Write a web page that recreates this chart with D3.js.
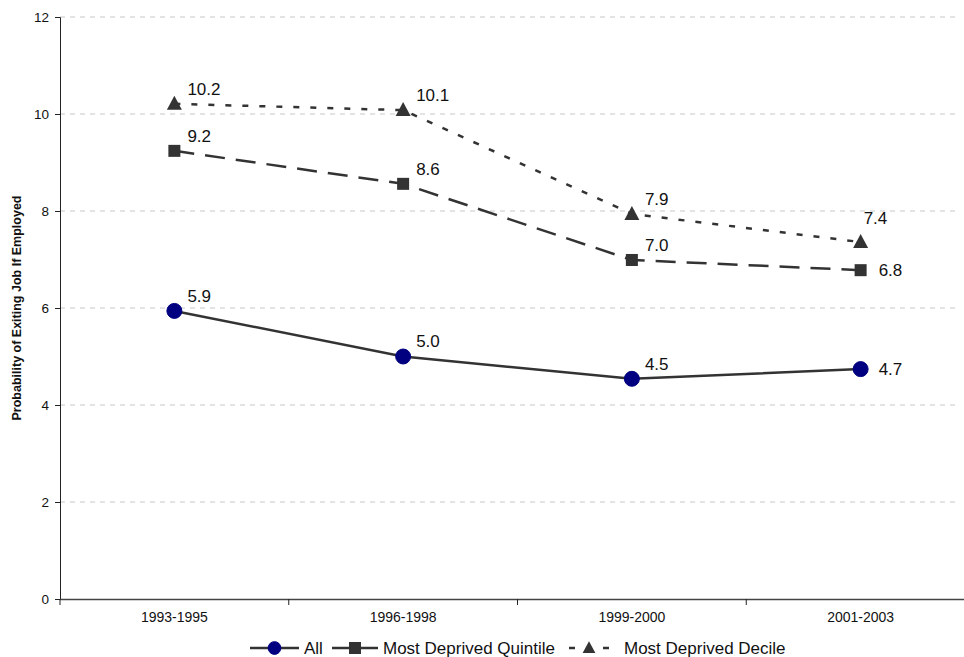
<!DOCTYPE html>
<html>
<head>
<meta charset="utf-8">
<script src="https://cdn.jsdelivr.net/npm/d3@7"></script>
<style>
  html, body { margin: 0; padding: 0; background: #fff; }
  svg { display: block; font-family: "Liberation Sans", Arial, sans-serif; }
</style>
</head>
<body>
<svg id="chart" width="964" height="657"></svg>
<script>
// Job-exit probability by period and area deprivation
const periods = ["1993-1995", "1996-1998", "1999-2000", "2001-2003"];
const allValues = [5.94, 5.0, 4.54, 4.74];
const quintileValues = [9.24, 8.56, 6.99, 6.78];
const decileValues = [10.21, 10.08, 7.94, 7.36];
const yTicks = [0, 2, 4, 6, 8, 10, 12];
const seriesNames = ["All", "Most Deprived Quintile", "Most Deprived Decile"];

const svg = d3.select("#chart");
const plotLeft = 60, plotRight = 975, plotTop = 17, plotBottom = 599, gridEnd = 959;

const x = d3.scaleBand().domain(periods).range([plotLeft, plotRight]).padding(0);
const y = d3.scaleLinear().domain([0, 12]).range([plotBottom, plotTop]);
const cx = d => x(d) + x.bandwidth() / 2;

// horizontal gridlines
svg.append("g").selectAll("line")
  .data(yTicks.filter(t => t > 0))
  .join("line")
  .attr("x1", plotLeft).attr("x2", gridEnd)
  .attr("y1", d => y(d)).attr("y2", d => y(d))
  .attr("stroke", "#c8c8c8").attr("stroke-width", 1)
  .attr("stroke-dasharray", "5,5");

// y axis
const yAxis = svg.append("g")
  .attr("transform", `translate(${plotLeft},0)`)
  .call(d3.axisLeft(y).tickValues(yTicks).tickSize(5).tickPadding(6).tickFormat(d3.format("d")));
yAxis.select(".domain").attr("stroke", "#222");
yAxis.selectAll(".tick line").attr("stroke", "#222");
yAxis.selectAll("text").attr("font-size", 13.5).attr("fill", "#111")
  .attr("font-family", "Liberation Sans, Arial, sans-serif");

// x axis
const xAxis = svg.append("g")
  .attr("transform", `translate(0,${plotBottom})`)
  .call(d3.axisBottom(x).tickSize(0).tickPadding(13));
xAxis.select(".domain").attr("stroke", "#444").attr("stroke-width", 1.5)
  .attr("d", `M${plotLeft},0.5H964`);
xAxis.selectAll("text").attr("font-size", 14).attr("fill", "#111")
  .attr("font-family", "Liberation Sans, Arial, sans-serif");
// category boundary ticks
svg.append("g").selectAll("line")
  .data(periods)
  .join("line")
  .attr("x1", d => x(d)).attr("x2", d => x(d))
  .attr("y1", plotBottom).attr("y2", plotBottom + 6)
  .attr("stroke", "#222");

// y axis title
svg.append("text")
  .attr("transform", `translate(21,${(plotTop + plotBottom) / 2}) rotate(-90)`)
  .attr("text-anchor", "middle")
  .attr("font-size", 12.5).attr("font-weight", "bold").attr("fill", "#111")
  .text("Probability of Exiting Job If Employed");

const lineGen = d3.line().x((d, i) => cx(periods[i])).y(d => y(d));
const lineColor = "#333";

const series = [
  { name: seriesNames[0], values: allValues, dash: null, marker: "circle", legendScale: 0.85, legendOffset: 0 },
  { name: seriesNames[1], values: quintileValues, dash: "20,11", marker: "square", legendScale: 1, legendOffset: 3 },
  { name: seriesNames[2], values: decileValues, dash: "6,11", marker: "triangle", legendScale: 0.85, legendOffset: -3 }
];

function drawMarker(g, type, px, py, scale = 1) {
  if (type === "circle") {
    g.append("circle").attr("cx", px).attr("cy", py).attr("r", 7.5 * scale)
      .attr("fill", "#000080").attr("stroke", "#000080");
  } else if (type === "square") {
    const h = 6 * scale;
    g.append("rect").attr("x", px - h).attr("y", py - h).attr("width", 2 * h).attr("height", 2 * h)
      .attr("fill", "#333");
  } else {
    g.append("path")
      .attr("d", `M${px},${py - 8 * scale}L${px + 7.5 * scale},${py + 6 * scale}L${px - 7.5 * scale},${py + 6 * scale}Z`)
      .attr("fill", "#333");
  }
}

// label offsets: above-right by default, beside the final points for the two lower series
function labelOffset(si, i) {
  const last = i === periods.length - 1;
  if (last && si === 2) return [3, -24];
  if (last) return [18, 0];
  return [13, -15];
}

series.forEach((s, si) => {
  const g = svg.append("g");
  g.append("path")
    .datum(s.values)
    .attr("d", lineGen)
    .attr("fill", "none")
    .attr("stroke", lineColor)
    .attr("stroke-width", 2.5)
    .attr("stroke-dasharray", s.dash);
  s.values.forEach((v, i) => {
    drawMarker(g, s.marker, cx(periods[i]), y(v));
    const [dx, dy] = labelOffset(si, i);
    g.append("text")
      .attr("x", cx(periods[i]) + dx)
      .attr("y", y(v) + dy)
      .attr("dy", "0.35em")
      .attr("font-size", 17).attr("fill", "#111")
      .text(v.toFixed(1));
  });
});

// legend
const legendY = 648;
const legendItems = [
  { x1: 250, x2: 299, tx: 304 },
  { x1: 332, x2: 378, tx: 383 },
  { x1: 566, x2: 612, tx: 624 }
];
const lg = svg.append("g");
series.forEach((s, si) => {
  const it = legendItems[si];
  lg.append("line")
    .attr("x1", it.x1).attr("x2", it.x2)
    .attr("y1", legendY).attr("y2", legendY)
    .attr("stroke", lineColor).attr("stroke-width", 2.5)
    .attr("stroke-dasharray", s.dash)
    .attr("stroke-dashoffset", s.legendOffset);
  drawMarker(lg, s.marker, (it.x1 + it.x2) / 2, legendY, s.legendScale);
  lg.append("text")
    .attr("x", it.tx).attr("y", legendY).attr("dy", "0.35em")
    .attr("font-size", 17).attr("fill", "#111")
    .text(s.name);
});
</script>
</body>
</html>
